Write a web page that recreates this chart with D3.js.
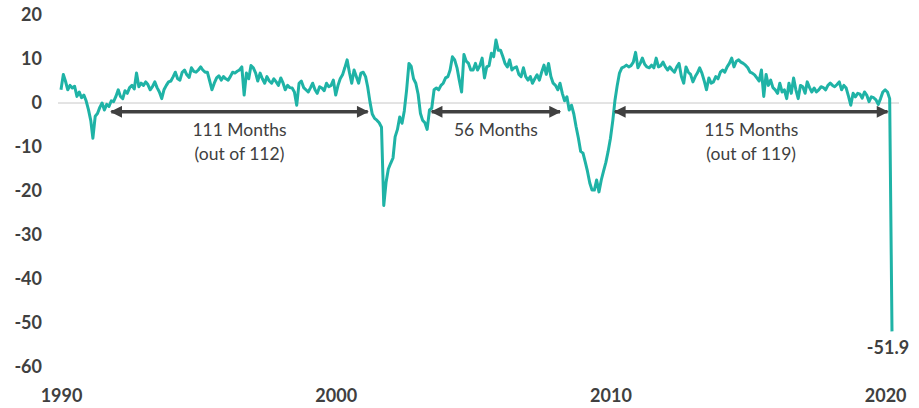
<!DOCTYPE html>
<html>
<head>
<meta charset="utf-8">
<script src="https://cdn.jsdelivr.net/npm/d3@7"></script>
<style>
  html, body { margin: 0; padding: 0; background: #ffffff; }
  svg { display: block; }
</style>
</head>
<body>
<svg id="chart" width="919" height="408"></svg>
<script>
// Monthly series, January 1990 onward
const startYear = 1990;
const monthlyValues = [
  // 1990
  3.0, 6.5, 5.0, 3.0, 4.0, 3.4, 3.8, 1.5, 2.5, 1.2, 1.8, 0.5,
  // 1991
  -1.5, -4.0, -8.0, -3.0, -2.4, -1.0, 0.0, -1.6, -0.3, -0.8, 0.5, 0.3,
  // 1992
  1.5, 3.0, 1.5, 1.0, 2.8, 2.2, 3.5, 4.0, 3.2, 6.8, 3.7, 4.5,
  // 1993
  4.0, 4.8, 4.2, 3.0, 3.7, 4.8, 3.5, 2.5, 1.0, 3.0, 4.0, 4.8,
  // 1994
  5.0, 6.0, 7.0, 5.5, 5.2, 7.0, 7.5, 6.4, 5.8, 8.0, 7.2, 7.0,
  // 1995
  7.5, 8.2, 7.5, 7.0, 7.0, 5.0, 3.0, 4.5, 5.7, 6.2, 5.2, 6.0,
  // 1996
  5.5, 5.2, 6.0, 7.0, 6.8, 7.2, 7.5, 8.2, 1.8, 6.8, 5.5, 8.5,
  // 1997
  8.0, 6.8, 5.0, 6.8, 5.5, 4.5, 6.0, 5.0, 4.5, 5.5, 4.8, 4.0,
  // 1998
  5.7, 4.5, 3.0, 4.0, 3.5, 3.4, 2.5, -0.5, 4.5, 5.0, 3.5, 3.0,
  // 1999
  2.5, 3.5, 4.5, 3.0, 2.2, 3.7, 3.4, 2.8, 4.5, 3.7, 4.0, 5.2,
  // 2000
  1.8, 4.0, 5.5, 6.4, 8.0, 9.8, 7.0, 4.5, 7.5, 6.0, 4.5, 6.8,
  // 2001
  7.0, 6.0, 3.7, 0.2, -2.5, -3.5, -3.9, -4.5, -5.5, -23.3, -18.0, -15.0,
  // 2002
  -13.7, -12.5, -7.7, -6.0, -3.2, -4.6, -1.8, 3.0, 9.0, 8.3, 5.5, 4.5,
  // 2003
  2.0, -2.4, -3.9, -4.5, -6.0, -1.6, -1.2, 3.0, 3.4, 3.0, 4.0, 4.5,
  // 2004
  5.7, 6.0, 7.5, 10.5, 9.8, 8.0, 5.2, 2.5, 11.0, 9.5, 9.0, 7.5,
  // 2005
  7.5, 9.0, 7.5, 8.5, 10.2, 5.7, 8.2, 8.5, 11.3, 10.5, 14.3, 12.0,
  // 2006
  12.0, 10.5, 9.0, 8.2, 9.8, 7.5, 8.0, 8.2, 6.5, 6.0, 8.0, 6.0,
  // 2007
  5.2, 6.0, 4.5, 5.5, 6.4, 5.2, 7.0, 8.6, 6.5, 9.0, 6.0, 4.5,
  // 2008
  4.0, 3.0, 4.5, 2.2, 0.5, 1.4, -1.6, -0.5, -2.5, -5.4, -8.0, -11.0,
  // 2009
  -11.4, -13.5, -15.5, -18.2, -19.8, -19.8, -17.5, -20.2, -17.5, -15.5, -13.5, -11.0,
  // 2010
  -8.0, -4.0, 0.5, 4.0, 6.8, 8.0, 8.2, 8.6, 8.2, 8.5, 9.3, 11.5,
  // 2011
  8.0, 9.0, 10.2, 8.8, 8.2, 8.0, 8.6, 8.0, 10.2, 8.2, 8.5, 9.3,
  // 2012
  8.2, 7.5, 8.2, 7.5, 7.0, 8.2, 9.0, 6.0, 4.5, 8.2, 7.0, 6.5,
  // 2013
  4.8, 6.0, 6.8, 8.0, 6.8, 5.0, 3.0, 5.7, 4.5, 4.8, 6.0, 5.5,
  // 2014
  7.0, 7.5, 7.0, 8.2, 9.0, 10.2, 8.2, 9.5, 9.8, 9.3, 9.0, 8.6,
  // 2015
  8.0, 7.0, 6.8, 6.4, 5.7, 5.0, 7.5, 1.5, 6.5, 4.0, 5.2, 3.5,
  // 2016
  3.0, 2.2, 4.5, 2.5, 3.0, 1.0, 4.5, 2.2, 5.7, 3.0, 1.0, 4.0,
  // 2017
  3.7, 2.2, 4.8, 3.5, 2.5, 3.4, 2.5, 3.0, 3.7, 3.5, 3.0, 4.0,
  // 2018
  4.5, 4.0, 3.7, 4.2, 4.8, 3.0, 4.0, 3.4, 1.5, -0.5, 2.2, 1.4,
  // 2019
  2.2, 2.0, 1.1, 2.5, 1.8, 0.3, 1.4, 1.2, 0.7, -0.3, 1.0, 2.5,
  // 2020
  3.0, 2.5, 1.0, -51.9
];

// Axis ticks
const yTicks = [20, 10, 0, -10, -20, -30, -40, -50, -60];
const xTickYears = [1990, 2000, 2010, 2020];

// Expansion spans: [start year, start month (0-based)] to [end year, end month]
const spanStarts = [[1991, 10], [2003, 6], [2010, 2]];
const spanEnds = [[2001, 2], [2008, 2], [2020, 1]];
const spanLines1 = ["111 Months", "56 Months", "115 Months"];
const spanLines2 = ["(out of 112)", "", "(out of 119)"];

const series = monthlyValues.map((v, i) => ({
  date: d3.timeMonth.offset(new Date(startYear, 0, 1), i),
  value: v
}));

const svg = d3.select("#chart");
const textColor = "#404040";
const lineColor = "#1fb3a6";
const fontFamily = "Lato, 'Open Sans', sans-serif";
// plain hyphen for negatives, as in the printed labels
const fmtTick = d => String(d);

const x = d3.scaleTime()
  .domain([new Date(1990, 0, 1), series[series.length - 1].date])
  .range([61, 892]);

const y = d3.scaleLinear()
  .domain([-60, 20])
  .range([367, 15]);

// Zero reference line
svg.append("line")
  .attr("x1", 58).attr("x2", 899)
  .attr("y1", y(0)).attr("y2", y(0))
  .attr("stroke", "#c8c8c8")
  .attr("stroke-width", 1);

// Y axis labels
const yAxis = d3.axisLeft(y).tickValues(yTicks).tickFormat(fmtTick).tickSize(0).tickPadding(0);
const gy = svg.append("g").attr("transform", "translate(42,0)").call(yAxis);
gy.select(".domain").remove();
gy.selectAll("text")
  .attr("fill", textColor)
  .style("font-family", fontFamily)
  .style("font-weight", "bold")
  .style("font-size", "18px");

// X axis labels
const xAxis = d3.axisBottom(x)
  .tickValues(xTickYears.map(yr => new Date(yr, 0, 1)))
  .tickFormat(d3.timeFormat("%Y"))
  .tickSize(0).tickPadding(0);
const gx = svg.append("g").attr("transform", "translate(0,389)").call(xAxis);
gx.select(".domain").remove();
gx.selectAll("text")
  .attr("fill", textColor)
  .style("font-family", fontFamily)
  .style("font-weight", "bold")
  .style("font-size", "18px");

// Series line
const line = d3.line()
  .x(d => x(d.date))
  .y(d => y(d.value));

svg.append("path")
  .datum(series)
  .attr("fill", "none")
  .attr("stroke", lineColor)
  .attr("stroke-width", 3)
  .attr("stroke-linejoin", "round")
  .attr("d", line);

// Double-headed arrows for the expansion spans
const defs = svg.append("defs");
["arrowEnd", "arrowStart"].forEach((id, k) => {
  defs.append("marker")
    .attr("id", id)
    .attr("viewBox", "0 0 10 10")
    .attr("refX", k === 0 ? 9 : 1)
    .attr("refY", 5)
    .attr("markerWidth", 3.8)
    .attr("markerHeight", 3.4)
    .attr("markerUnits", "strokeWidth")
    .attr("orient", "auto")
    .append("path")
    .attr("d", k === 0 ? "M0,0 L10,5 L0,10 Z" : "M10,0 L0,5 L10,10 Z")
    .attr("fill", textColor);
});

const arrowY = y(-2);
spanStarts.forEach((s, i) => {
  const x1 = x(new Date(s[0], s[1], 1));
  const x2 = x(new Date(spanEnds[i][0], spanEnds[i][1], 1));
  svg.append("line")
    .attr("x1", x1).attr("x2", x2)
    .attr("y1", arrowY).attr("y2", arrowY)
    .attr("stroke", textColor)
    .attr("stroke-width", 3.5)
    .attr("marker-start", "url(#arrowStart)")
    .attr("marker-end", "url(#arrowEnd)");

  const cx = (x1 + x2) / 2;
  const label = svg.append("text")
    .attr("x", cx)
    .attr("text-anchor", "middle")
    .attr("fill", textColor)
    .style("font-family", fontFamily)
    .style("font-size", "17.5px");
  label.append("tspan").attr("x", cx).attr("y", 136).text(spanLines1[i]);
  if (spanLines2[i]) {
    label.append("tspan").attr("x", cx).attr("y", 160).text(spanLines2[i]);
  }
});

// Value label for the latest reading
const last = series[series.length - 1];
svg.append("text")
  .attr("x", x(last.date) - 4)
  .attr("y", y(last.value) + 23)
  .attr("text-anchor", "middle")
  .attr("fill", textColor)
  .style("font-family", fontFamily)
  .style("font-weight", "bold")
  .style("font-size", "18px")
  .text(last.value.toFixed(1));
</script>
</body>
</html>
